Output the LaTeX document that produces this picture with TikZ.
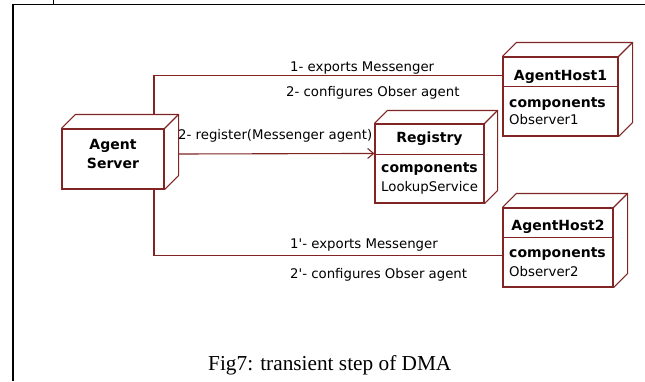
\documentclass[tikz,border=0pt]{standalone}
\usepackage{fontspec}
\setmainfont{Liberation Serif}
\newfontfamily\umlfont{DejaVu Sans}
\usetikzlibrary{arrows.meta}
\definecolor{umlred}{RGB}{128,36,36}
\tikzset{
  frame/.style={draw=black, line width=1.8bp},
  umlline/.style={draw=umlred, line width=1.1bp},
  facebox/.style={umlline, fill=white, rectangle, inner sep=0pt},
  title/.style={inner sep=0pt, anchor=base, font=\umlfont\bfseries\fontsize{14bp}{16bp}\selectfont},
  compname/.style={inner sep=0pt, anchor=base west, font=\umlfont\bfseries\fontsize{14bp}{16bp}\selectfont},
  comptext/.style={inner sep=0pt, anchor=base west, font=\umlfont\fontsize{13.3bp}{16bp}\selectfont},
  msg/.style={inner sep=0pt, anchor=base west, font=\umlfont\fontsize{13.3bp}{16bp}\selectfont},
  caption/.style={inner sep=0pt, anchor=base west, font=\fontsize{21.3bp}{24bp}\selectfont},
}
% side and top faces of a UML node box, #2 = depth in bp
\newcommand\nodedepth[2]{%
  \draw[umlline] (#1.north west) -- ++(#2,-#2) -| ([xshift=#2bp,yshift=#2bp]#1.south east) -- (#1.south east);
  \draw[umlline] (#1.north east) -- ++(#2,-#2);}
\begin{document}
\begin{tikzpicture}[x=1bp, y=-1bp]
\useasboundingbox (0,0) rectangle (645,381);

% page frame
\draw[frame] (13,381) -- (13,4.5) -- (645,4.5);
\draw[black, line width=1bp] (53.5,0) -- (53.5,4.5);

% front faces
\node[facebox, minimum width=102bp, minimum height=60bp] (AS) at (113,159) {};
\node[facebox, minimum width=109bp, minimum height=79bp] (Reg) at (429.5,163.5) {};
\node[facebox, minimum width=115bp, minimum height=79bp] (AH1) at (560.5,96.5) {};
\node[facebox, minimum width=110bp, minimum height=79bp] (AH2) at (558,247.5) {};

\nodedepth{AS}{14}
\nodedepth{Reg}{13}
\nodedepth{AH1}{14}
\nodedepth{AH2}{14}

% compartment dividers
\draw[umlline] ([yshift=-31bp]Reg.north west) -- ([yshift=-31bp]Reg.north east);
\draw[umlline] ([yshift=-30bp]AH1.north west) -- ([yshift=-30bp]AH1.north east);
\draw[umlline] ([yshift=-30bp]AH2.north west) -- ([yshift=-30bp]AH2.north east);

% node texts
\node[title] (asA) at (113,149) {Agent};
\node[title] (asS) at (113,168) {Server};
\node[title] (regT) at (429.5,142) {Registry};
\node[compname] (regC) at (381,172) {components};
\node[comptext] (regL) at (381,191) {LookupService};
\node[title] (ah1T) at (560.5,80) {AgentHost1};
\node[compname] (ah1C) at (509,107) {components};
\node[comptext] (ah1O) at (509,124.5) {Observer1};
\node[title] (ah2T) at (558,230) {AgentHost2};
\node[compname] (ah2C) at (509,257) {components};
\node[comptext] (ah2O) at (509,276) {Observer2};

% connectors
\draw[umlline] ([xshift=41bp,yshift=14bp]AS.north) |- ([yshift=-19bp]AH1.north west);
\draw[umlline, -{Straight Barb[length=6bp,width=10bp]}]
  ([xshift=14bp,yshift=5bp]AS.east) -- ([yshift=-30bp]Reg.north west);
\draw[umlline] ([xshift=41bp]AS.south) |- ([yshift=-48bp]AH2.north west);

% message labels
\node[msg] (m1) at (290,71.5) {1- exports Messenger};
\node[msg] (m2) at (286,96.5) {2- configures Obser agent};
\node[msg] (m3) at (178,139) {2- register(Messenger agent)};
\node[msg] (m4) at (290,248.5) {1'- exports Messenger};
\node[msg] (m5) at (290,278.5) {2'- configures Obser agent};

% caption
\node[caption] (cap) at (208,370) {Fig7: transient step of DMA};
\end{tikzpicture}
\end{document}
